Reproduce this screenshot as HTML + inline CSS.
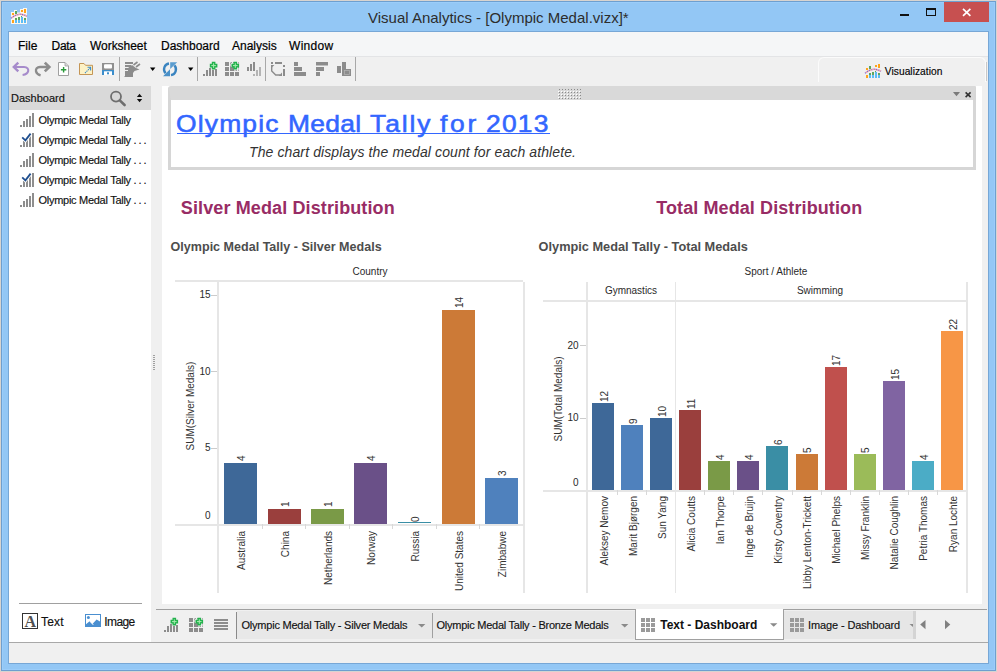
<!DOCTYPE html>
<html><head><meta charset="utf-8"><title>Visual Analytics</title>
<style>
*{margin:0;padding:0;box-sizing:border-box}
html,body{width:997px;height:672px;overflow:hidden}
body{position:relative;background:#93c7f5;font-family:"Liberation Sans",sans-serif}
.a{position:absolute}
.t{position:absolute;white-space:nowrap;font-family:"Liberation Sans",sans-serif}
svg{position:absolute;left:0;top:0}
</style></head><body>

<div class="a" style="left:0;top:0;width:997px;height:672px;border:1px solid #d8d4d0"></div>
<div class="a" style="left:1px;top:1px;width:995px;height:670px;border:1px solid #6e9fcf"></div>
<div class="a" style="left:2px;top:2px;width:993px;height:668px;border:1px solid #9bcdfa"></div>
<div class="a" style="left:8px;top:31px;width:981px;height:633px;border:1px solid #77a7d6"></div>
<div class="a" style="left:9px;top:32px;width:979px;height:631px;background:#f0f0f0;"></div>
<div class="t" style="left:368.00px;top:9.80px;font-size:15px;line-height:15px;color:#2d2d2d;font-weight:normal;font-style:normal;letter-spacing:0px;">Visual Analytics - [Olympic Medal.vizx]*</div>
<div class="a" style="left:944px;top:2px;width:45px;height:20px;background:#c75050;"></div>
<div class="a" style="left:9px;top:32px;width:979px;height:24px;background:#f5f6f7;"></div>
<div class="a" style="left:9px;top:56px;width:979px;height:1px;background:#e3e4e6;"></div>
<div class="t" style="left:18.00px;top:40.44px;font-size:12px;line-height:12px;color:#000;font-weight:normal;font-style:normal;letter-spacing:0px;-webkit-text-stroke:0.2px #000">File</div>
<div class="t" style="left:51.60px;top:40.44px;font-size:12px;line-height:12px;color:#000;font-weight:normal;font-style:normal;letter-spacing:-0.35px;-webkit-text-stroke:0.2px #000">Data</div>
<div class="t" style="left:90.00px;top:40.44px;font-size:12px;line-height:12px;color:#000;font-weight:normal;font-style:normal;letter-spacing:-0.05px;-webkit-text-stroke:0.2px #000">Worksheet</div>
<div class="t" style="left:161.00px;top:40.44px;font-size:12px;line-height:12px;color:#000;font-weight:normal;font-style:normal;letter-spacing:0px;-webkit-text-stroke:0.2px #000">Dashboard</div>
<div class="t" style="left:232.00px;top:40.44px;font-size:12px;line-height:12px;color:#000;font-weight:normal;font-style:normal;letter-spacing:0px;-webkit-text-stroke:0.2px #000">Analysis</div>
<div class="t" style="left:289.00px;top:40.44px;font-size:12px;line-height:12px;color:#000;font-weight:normal;font-style:normal;letter-spacing:0.3px;-webkit-text-stroke:0.2px #000">Window</div>
<div class="a" style="left:119px;top:57px;width:1px;height:24px;background:#a8a8a8;"></div>
<div class="a" style="left:197px;top:57px;width:1px;height:24px;background:#a8a8a8;"></div>
<div class="a" style="left:265px;top:57px;width:1px;height:24px;background:#a8a8a8;"></div>
<div class="a" style="left:355px;top:57px;width:1px;height:24px;background:#a8a8a8;"></div>
<div class="a" style="left:818px;top:57px;width:168px;height:25px;border:1px solid #fbfbfb;border-bottom:none;border-radius:6px 6px 0 0;background:#f0f0f0"></div>
<div class="a" style="left:986px;top:62px;width:1px;height:19px;background:#c8c8c8;"></div>
<div class="t" style="left:884.80px;top:66.97px;font-size:10.2px;line-height:10.2px;color:#000;font-weight:normal;font-style:normal;letter-spacing:0.05px;-webkit-text-stroke:0.15px #111">Visualization</div>
<div class="a" style="left:9px;top:86px;width:142px;height:556px;background:#ffffff;"></div>
<div class="a" style="left:9px;top:86px;width:142px;height:24px;background:#d9d9d9;"></div>
<div class="t" style="left:11.00px;top:93.09px;font-size:11px;line-height:11px;color:#111;font-weight:normal;font-style:normal;letter-spacing:0px;-webkit-text-stroke:0.15px #111">Dashboard</div>
<div class="t" style="left:38.50px;top:115.29px;font-size:11px;line-height:11px;color:#111;font-weight:normal;font-style:normal;letter-spacing:-0.28px;-webkit-text-stroke:0.15px #111">Olympic Medal Tally</div>
<div class="t" style="left:38.50px;top:135.29px;font-size:11px;line-height:11px;color:#111;font-weight:normal;font-style:normal;letter-spacing:-0.28px;-webkit-text-stroke:0.15px #111">Olympic Medal Tally <span style="letter-spacing:1.9px">...</span></div>
<div class="t" style="left:38.50px;top:155.29px;font-size:11px;line-height:11px;color:#111;font-weight:normal;font-style:normal;letter-spacing:-0.28px;-webkit-text-stroke:0.15px #111">Olympic Medal Tally <span style="letter-spacing:1.9px">...</span></div>
<div class="t" style="left:38.50px;top:175.29px;font-size:11px;line-height:11px;color:#111;font-weight:normal;font-style:normal;letter-spacing:-0.28px;-webkit-text-stroke:0.15px #111">Olympic Medal Tally <span style="letter-spacing:1.9px">...</span></div>
<div class="t" style="left:38.50px;top:195.29px;font-size:11px;line-height:11px;color:#111;font-weight:normal;font-style:normal;letter-spacing:-0.28px;-webkit-text-stroke:0.15px #111">Olympic Medal Tally <span style="letter-spacing:1.9px">...</span></div>
<div class="a" style="left:19px;top:603px;width:123px;height:1px;background:#a0a0a0;"></div>
<div class="t" style="left:41.00px;top:615.84px;font-size:12px;line-height:12px;color:#111;font-weight:normal;font-style:normal;letter-spacing:0.2px;-webkit-text-stroke:0.15px #111">Text</div>
<div class="t" style="left:104.30px;top:615.84px;font-size:12px;line-height:12px;color:#111;font-weight:normal;font-style:normal;letter-spacing:-0.6px;-webkit-text-stroke:0.15px #111">Image</div>
<div class="a" style="left:162px;top:86px;width:820px;height:518px;background:#ffffff;"></div>
<div class="a" style="left:153px;top:355px;width:2px;height:1px;background:#a0a0a0;"></div>
<div class="a" style="left:153px;top:357px;width:2px;height:1px;background:#a0a0a0;"></div>
<div class="a" style="left:153px;top:359px;width:2px;height:1px;background:#a0a0a0;"></div>
<div class="a" style="left:153px;top:361px;width:2px;height:1px;background:#a0a0a0;"></div>
<div class="a" style="left:153px;top:363px;width:2px;height:1px;background:#a0a0a0;"></div>
<div class="a" style="left:153px;top:365px;width:2px;height:1px;background:#a0a0a0;"></div>
<div class="a" style="left:153px;top:367px;width:2px;height:1px;background:#a0a0a0;"></div>
<div class="a" style="left:153px;top:369px;width:2px;height:1px;background:#a0a0a0;"></div>
<div class="a" style="left:168px;top:86px;width:808px;height:84px;border:3px solid #d6d6d6;border-top:14px solid #d9d9d9;border-radius:3px 1px 0 0;background:#fff"></div>
<div class="a" style="left:156px;top:609px;width:831px;height:1px;background:#a0a0a0;"></div>
<div class="a" style="left:9px;top:642px;width:979px;height:1px;background:#a8a8a8;"></div>
<div class="a" style="left:559px;top:89px;width:1px;height:1px;background:#8a8a8a;"></div>
<div class="a" style="left:558px;top:91px;width:1px;height:1px;background:#ffffff;"></div>
<div class="a" style="left:559px;top:92px;width:1px;height:1px;background:#8a8a8a;"></div>
<div class="a" style="left:558px;top:94px;width:1px;height:1px;background:#ffffff;"></div>
<div class="a" style="left:559px;top:95px;width:1px;height:1px;background:#8a8a8a;"></div>
<div class="a" style="left:558px;top:97px;width:1px;height:1px;background:#ffffff;"></div>
<div class="a" style="left:559px;top:98px;width:1px;height:1px;background:#8a8a8a;"></div>
<div class="a" style="left:562px;top:89px;width:1px;height:1px;background:#8a8a8a;"></div>
<div class="a" style="left:561px;top:91px;width:1px;height:1px;background:#ffffff;"></div>
<div class="a" style="left:562px;top:92px;width:1px;height:1px;background:#8a8a8a;"></div>
<div class="a" style="left:561px;top:94px;width:1px;height:1px;background:#ffffff;"></div>
<div class="a" style="left:562px;top:95px;width:1px;height:1px;background:#8a8a8a;"></div>
<div class="a" style="left:561px;top:97px;width:1px;height:1px;background:#ffffff;"></div>
<div class="a" style="left:562px;top:98px;width:1px;height:1px;background:#8a8a8a;"></div>
<div class="a" style="left:565px;top:89px;width:1px;height:1px;background:#8a8a8a;"></div>
<div class="a" style="left:564px;top:91px;width:1px;height:1px;background:#ffffff;"></div>
<div class="a" style="left:565px;top:92px;width:1px;height:1px;background:#8a8a8a;"></div>
<div class="a" style="left:564px;top:94px;width:1px;height:1px;background:#ffffff;"></div>
<div class="a" style="left:565px;top:95px;width:1px;height:1px;background:#8a8a8a;"></div>
<div class="a" style="left:564px;top:97px;width:1px;height:1px;background:#ffffff;"></div>
<div class="a" style="left:565px;top:98px;width:1px;height:1px;background:#8a8a8a;"></div>
<div class="a" style="left:568px;top:89px;width:1px;height:1px;background:#8a8a8a;"></div>
<div class="a" style="left:567px;top:91px;width:1px;height:1px;background:#ffffff;"></div>
<div class="a" style="left:568px;top:92px;width:1px;height:1px;background:#8a8a8a;"></div>
<div class="a" style="left:567px;top:94px;width:1px;height:1px;background:#ffffff;"></div>
<div class="a" style="left:568px;top:95px;width:1px;height:1px;background:#8a8a8a;"></div>
<div class="a" style="left:567px;top:97px;width:1px;height:1px;background:#ffffff;"></div>
<div class="a" style="left:568px;top:98px;width:1px;height:1px;background:#8a8a8a;"></div>
<div class="a" style="left:571px;top:89px;width:1px;height:1px;background:#8a8a8a;"></div>
<div class="a" style="left:570px;top:91px;width:1px;height:1px;background:#ffffff;"></div>
<div class="a" style="left:571px;top:92px;width:1px;height:1px;background:#8a8a8a;"></div>
<div class="a" style="left:570px;top:94px;width:1px;height:1px;background:#ffffff;"></div>
<div class="a" style="left:571px;top:95px;width:1px;height:1px;background:#8a8a8a;"></div>
<div class="a" style="left:570px;top:97px;width:1px;height:1px;background:#ffffff;"></div>
<div class="a" style="left:571px;top:98px;width:1px;height:1px;background:#8a8a8a;"></div>
<div class="a" style="left:574px;top:89px;width:1px;height:1px;background:#8a8a8a;"></div>
<div class="a" style="left:573px;top:91px;width:1px;height:1px;background:#ffffff;"></div>
<div class="a" style="left:574px;top:92px;width:1px;height:1px;background:#8a8a8a;"></div>
<div class="a" style="left:573px;top:94px;width:1px;height:1px;background:#ffffff;"></div>
<div class="a" style="left:574px;top:95px;width:1px;height:1px;background:#8a8a8a;"></div>
<div class="a" style="left:573px;top:97px;width:1px;height:1px;background:#ffffff;"></div>
<div class="a" style="left:574px;top:98px;width:1px;height:1px;background:#8a8a8a;"></div>
<div class="a" style="left:577px;top:89px;width:1px;height:1px;background:#8a8a8a;"></div>
<div class="a" style="left:576px;top:91px;width:1px;height:1px;background:#ffffff;"></div>
<div class="a" style="left:577px;top:92px;width:1px;height:1px;background:#8a8a8a;"></div>
<div class="a" style="left:576px;top:94px;width:1px;height:1px;background:#ffffff;"></div>
<div class="a" style="left:577px;top:95px;width:1px;height:1px;background:#8a8a8a;"></div>
<div class="a" style="left:576px;top:97px;width:1px;height:1px;background:#ffffff;"></div>
<div class="a" style="left:577px;top:98px;width:1px;height:1px;background:#8a8a8a;"></div>
<div class="a" style="left:580px;top:89px;width:1px;height:1px;background:#8a8a8a;"></div>
<div class="a" style="left:579px;top:91px;width:1px;height:1px;background:#ffffff;"></div>
<div class="a" style="left:580px;top:92px;width:1px;height:1px;background:#8a8a8a;"></div>
<div class="a" style="left:579px;top:94px;width:1px;height:1px;background:#ffffff;"></div>
<div class="a" style="left:580px;top:95px;width:1px;height:1px;background:#8a8a8a;"></div>
<div class="a" style="left:579px;top:97px;width:1px;height:1px;background:#ffffff;"></div>
<div class="a" style="left:580px;top:98px;width:1px;height:1px;background:#8a8a8a;"></div>
<div class="t" style="left:175.90px;top:111.78px;font-size:24px;line-height:24px;color:#3366ff;font-weight:normal;font-style:normal;letter-spacing:1.08px;transform:scaleX(1.1);transform-origin:0 0;-webkit-text-stroke:0.55px #3366ff">Olympic</div>
<div class="t" style="left:287.90px;top:111.78px;font-size:24px;line-height:24px;color:#3366ff;font-weight:normal;font-style:normal;letter-spacing:0.25px;transform:scaleX(1.1);transform-origin:0 0;-webkit-text-stroke:0.55px #3366ff">Medal</div>
<div class="t" style="left:370.30px;top:111.78px;font-size:24px;line-height:24px;color:#3366ff;font-weight:normal;font-style:normal;letter-spacing:1.75px;transform:scaleX(1.1);transform-origin:0 0;-webkit-text-stroke:0.55px #3366ff">Tally</div>
<div class="t" style="left:440.40px;top:111.78px;font-size:24px;line-height:24px;color:#3366ff;font-weight:normal;font-style:normal;letter-spacing:2.5px;transform:scaleX(1.1);transform-origin:0 0;-webkit-text-stroke:0.55px #3366ff">for</div>
<div class="t" style="left:485.70px;top:111.78px;font-size:24px;line-height:24px;color:#3366ff;font-weight:normal;font-style:normal;letter-spacing:1.1px;transform:scaleX(1.1);transform-origin:0 0;-webkit-text-stroke:0.55px #3366ff">2013</div>
<div class="a" style="left:177px;top:133px;width:373px;height:1px;background:#3366ff;"></div>
<div class="t" style="left:249.00px;top:145.45px;font-size:14px;line-height:14px;color:#333;font-weight:normal;font-style:italic;letter-spacing:0.11px;">The chart displays the medal count for each athlete.</div>
<div class="t" style="left:180.80px;top:199.26px;font-size:18px;line-height:18px;color:#982c65;font-weight:bold;font-style:normal;letter-spacing:0.12px;">Silver Medal Distribution</div>
<div class="t" style="left:656.20px;top:198.76px;font-size:18px;line-height:18px;color:#982c65;font-weight:bold;font-style:normal;letter-spacing:0.1px;">Total Medal Distribution</div>
<div class="t" style="left:170.60px;top:241.28px;font-size:12.55px;line-height:12.55px;color:#4d4d4d;font-weight:bold;font-style:normal;letter-spacing:0px;">Olympic Medal Tally - Silver Medals</div>
<div class="t" style="left:538.60px;top:241.11px;font-size:12.75px;line-height:12.75px;color:#4d4d4d;font-weight:bold;font-style:normal;letter-spacing:0px;">Olympic Medal Tally - Total Medals</div>
<div class="t" style="left:270.00px;top:266.54px;width:200px;text-align:center;font-size:10px;line-height:10px;color:#2a2a2a;font-weight:normal">Country</div>
<div class="a" style="left:175px;top:280px;width:348px;height:2px;background:#e6e6e6;"></div>
<div class="a" style="left:217px;top:282px;width:2px;height:311px;background:#e6e6e6;"></div>
<div class="a" style="left:523px;top:282px;width:2px;height:311px;background:#e6e6e6;"></div>
<div class="a" style="left:175px;top:524px;width:348px;height:2px;background:#e6e6e6;"></div>
<div class="a" style="left:211px;top:295px;width:6px;height:1px;background:#cccccc;"></div>
<div class="t" style="left:150.50px;top:290.35px;width:60px;text-align:right;font-size:10px;line-height:10px;color:#2a2a2a">15</div>
<div class="a" style="left:211px;top:371px;width:6px;height:1px;background:#cccccc;"></div>
<div class="t" style="left:150.50px;top:366.78px;width:60px;text-align:right;font-size:10px;line-height:10px;color:#2a2a2a">10</div>
<div class="a" style="left:211px;top:448px;width:6px;height:1px;background:#cccccc;"></div>
<div class="t" style="left:150.50px;top:443.21px;width:60px;text-align:right;font-size:10px;line-height:10px;color:#2a2a2a">5</div>
<div class="t" style="left:150.50px;top:511.33px;width:60px;text-align:right;font-size:10px;line-height:10px;color:#2a2a2a">0</div>
<div class="t" style="left:186.10px;top:466.00px;width:120px;text-align:center;font-size:10px;line-height:10px;color:#333;transform-origin:0 0;transform:rotate(-90deg)">SUM(Silver Medals)</div>
<div class="a" style="left:224px;top:463px;width:33px;height:61px;background:#3e6898;"></div>
<div class="t" style="left:237.40px;top:461.20px;width:120px;text-align:left;font-size:10px;line-height:10px;color:#333;transform-origin:0 0;transform:rotate(-90deg)">4</div>
<div class="t" style="left:237.20px;top:650.60px;width:120px;text-align:right;font-size:10px;line-height:10px;color:#333;transform-origin:0 0;transform:rotate(-90deg)">Australia</div>
<div class="a" style="left:268px;top:509px;width:33px;height:15px;background:#9a3f3d;"></div>
<div class="t" style="left:281.40px;top:507.20px;width:120px;text-align:left;font-size:10px;line-height:10px;color:#333;transform-origin:0 0;transform:rotate(-90deg)">1</div>
<div class="t" style="left:281.20px;top:650.60px;width:120px;text-align:right;font-size:10px;line-height:10px;color:#333;transform-origin:0 0;transform:rotate(-90deg)">China</div>
<div class="a" style="left:262px;top:524px;width:1px;height:5px;background:#d8d8d8;"></div>
<div class="a" style="left:311px;top:509px;width:33px;height:15px;background:#7a9a47;"></div>
<div class="t" style="left:324.40px;top:507.20px;width:120px;text-align:left;font-size:10px;line-height:10px;color:#333;transform-origin:0 0;transform:rotate(-90deg)">1</div>
<div class="t" style="left:324.20px;top:650.60px;width:120px;text-align:right;font-size:10px;line-height:10px;color:#333;transform-origin:0 0;transform:rotate(-90deg)">Netherlands</div>
<div class="a" style="left:305px;top:524px;width:1px;height:5px;background:#d8d8d8;"></div>
<div class="a" style="left:354px;top:463px;width:33px;height:61px;background:#6a5088;"></div>
<div class="t" style="left:367.40px;top:461.20px;width:120px;text-align:left;font-size:10px;line-height:10px;color:#333;transform-origin:0 0;transform:rotate(-90deg)">4</div>
<div class="t" style="left:367.20px;top:650.60px;width:120px;text-align:right;font-size:10px;line-height:10px;color:#333;transform-origin:0 0;transform:rotate(-90deg)">Norway</div>
<div class="a" style="left:349px;top:524px;width:1px;height:5px;background:#d8d8d8;"></div>
<div class="a" style="left:398px;top:522px;width:33px;height:1px;background:#3a8ea5;"></div>
<div class="t" style="left:411.40px;top:522.20px;width:120px;text-align:left;font-size:10px;line-height:10px;color:#333;transform-origin:0 0;transform:rotate(-90deg)">0</div>
<div class="t" style="left:411.20px;top:650.60px;width:120px;text-align:right;font-size:10px;line-height:10px;color:#333;transform-origin:0 0;transform:rotate(-90deg)">Russia</div>
<div class="a" style="left:392px;top:524px;width:1px;height:5px;background:#d8d8d8;"></div>
<div class="a" style="left:442px;top:310px;width:33px;height:214px;background:#cc7a37;"></div>
<div class="t" style="left:455.40px;top:308.20px;width:120px;text-align:left;font-size:10px;line-height:10px;color:#333;transform-origin:0 0;transform:rotate(-90deg)">14</div>
<div class="t" style="left:455.20px;top:650.60px;width:120px;text-align:right;font-size:10px;line-height:10px;color:#333;transform-origin:0 0;transform:rotate(-90deg)">United States</div>
<div class="a" style="left:436px;top:524px;width:1px;height:5px;background:#d8d8d8;"></div>
<div class="a" style="left:485px;top:478px;width:33px;height:46px;background:#4f81bd;"></div>
<div class="t" style="left:498.40px;top:476.20px;width:120px;text-align:left;font-size:10px;line-height:10px;color:#333;transform-origin:0 0;transform:rotate(-90deg)">3</div>
<div class="t" style="left:498.20px;top:650.60px;width:120px;text-align:right;font-size:10px;line-height:10px;color:#333;transform-origin:0 0;transform:rotate(-90deg)">Zimbabwe</div>
<div class="a" style="left:479px;top:524px;width:1px;height:5px;background:#d8d8d8;"></div>
<div class="t" style="left:676.00px;top:266.54px;width:200px;text-align:center;font-size:10px;line-height:10px;color:#2a2a2a;font-weight:normal">Sport / Athlete</div>
<div class="t" style="left:531.00px;top:285.54px;width:200px;text-align:center;font-size:10px;line-height:10px;color:#2a2a2a;font-weight:normal">Gymnastics</div>
<div class="t" style="left:720.00px;top:285.54px;width:200px;text-align:center;font-size:10px;line-height:10px;color:#2a2a2a;font-weight:normal">Swimming</div>
<div class="a" style="left:586px;top:282px;width:2px;height:311px;background:#e6e6e6;"></div>
<div class="a" style="left:675px;top:282px;width:1px;height:311px;background:#e6e6e6;"></div>
<div class="a" style="left:966px;top:282px;width:2px;height:311px;background:#e6e6e6;"></div>
<div class="a" style="left:543px;top:300px;width:423px;height:2px;background:#e6e6e6;"></div>
<div class="a" style="left:543px;top:490px;width:423px;height:2px;background:#e6e6e6;"></div>
<div class="a" style="left:580px;top:345px;width:6px;height:1px;background:#cccccc;"></div>
<div class="t" style="left:518.50px;top:340.94px;width:60px;text-align:right;font-size:10px;line-height:10px;color:#2a2a2a">20</div>
<div class="a" style="left:580px;top:418px;width:6px;height:1px;background:#cccccc;"></div>
<div class="t" style="left:518.50px;top:413.14px;width:60px;text-align:right;font-size:10px;line-height:10px;color:#2a2a2a">10</div>
<div class="t" style="left:518.50px;top:477.84px;width:60px;text-align:right;font-size:10px;line-height:10px;color:#2a2a2a">0</div>
<div class="t" style="left:554.10px;top:459.00px;width:120px;text-align:center;font-size:10px;line-height:10px;color:#333;transform-origin:0 0;transform:rotate(-90deg)">SUM(Total Medals)</div>
<div class="a" style="left:592px;top:403px;width:22px;height:87px;background:#3e6898;"></div>
<div class="t" style="left:599.70px;top:401.60px;width:120px;text-align:left;font-size:10px;line-height:10px;color:#333;transform-origin:0 0;transform:rotate(-90deg)">12</div>
<div class="t" style="left:599.60px;top:616.30px;width:120px;text-align:right;font-size:10px;line-height:10px;color:#333;transform-origin:0 0;transform:rotate(-90deg)">Aleksey Nemov</div>
<div class="a" style="left:621px;top:425px;width:22px;height:65px;background:#4f81bd;"></div>
<div class="t" style="left:628.78px;top:423.60px;width:120px;text-align:left;font-size:10px;line-height:10px;color:#333;transform-origin:0 0;transform:rotate(-90deg)">9</div>
<div class="t" style="left:628.68px;top:616.30px;width:120px;text-align:right;font-size:10px;line-height:10px;color:#333;transform-origin:0 0;transform:rotate(-90deg)">Marit Bjørgen</div>
<div class="a" style="left:617px;top:490px;width:1px;height:5px;background:#d8d8d8;"></div>
<div class="a" style="left:650px;top:418px;width:22px;height:72px;background:#3e6898;"></div>
<div class="t" style="left:657.86px;top:416.60px;width:120px;text-align:left;font-size:10px;line-height:10px;color:#333;transform-origin:0 0;transform:rotate(-90deg)">10</div>
<div class="t" style="left:657.76px;top:616.30px;width:120px;text-align:right;font-size:10px;line-height:10px;color:#333;transform-origin:0 0;transform:rotate(-90deg)">Sun Yang</div>
<div class="a" style="left:646px;top:490px;width:1px;height:5px;background:#d8d8d8;"></div>
<div class="a" style="left:679px;top:410px;width:22px;height:80px;background:#9a3f3d;"></div>
<div class="t" style="left:686.94px;top:408.60px;width:120px;text-align:left;font-size:10px;line-height:10px;color:#333;transform-origin:0 0;transform:rotate(-90deg)">11</div>
<div class="t" style="left:686.84px;top:616.30px;width:120px;text-align:right;font-size:10px;line-height:10px;color:#333;transform-origin:0 0;transform:rotate(-90deg)">Alicia Coutts</div>
<div class="a" style="left:708px;top:461px;width:22px;height:29px;background:#7a9a47;"></div>
<div class="t" style="left:716.02px;top:459.60px;width:120px;text-align:left;font-size:10px;line-height:10px;color:#333;transform-origin:0 0;transform:rotate(-90deg)">4</div>
<div class="t" style="left:715.92px;top:616.30px;width:120px;text-align:right;font-size:10px;line-height:10px;color:#333;transform-origin:0 0;transform:rotate(-90deg)">Ian Thorpe</div>
<div class="a" style="left:704px;top:490px;width:1px;height:5px;background:#d8d8d8;"></div>
<div class="a" style="left:737px;top:461px;width:22px;height:29px;background:#6a5088;"></div>
<div class="t" style="left:745.10px;top:459.60px;width:120px;text-align:left;font-size:10px;line-height:10px;color:#333;transform-origin:0 0;transform:rotate(-90deg)">4</div>
<div class="t" style="left:745.00px;top:616.30px;width:120px;text-align:right;font-size:10px;line-height:10px;color:#333;transform-origin:0 0;transform:rotate(-90deg)">Inge de Bruijn</div>
<div class="a" style="left:733px;top:490px;width:1px;height:5px;background:#d8d8d8;"></div>
<div class="a" style="left:766px;top:446px;width:22px;height:44px;background:#3a8ea5;"></div>
<div class="t" style="left:774.18px;top:444.60px;width:120px;text-align:left;font-size:10px;line-height:10px;color:#333;transform-origin:0 0;transform:rotate(-90deg)">6</div>
<div class="t" style="left:774.08px;top:616.30px;width:120px;text-align:right;font-size:10px;line-height:10px;color:#333;transform-origin:0 0;transform:rotate(-90deg)">Kirsty Coventry</div>
<div class="a" style="left:762px;top:490px;width:1px;height:5px;background:#d8d8d8;"></div>
<div class="a" style="left:796px;top:454px;width:22px;height:36px;background:#cc7a37;"></div>
<div class="t" style="left:803.26px;top:452.60px;width:120px;text-align:left;font-size:10px;line-height:10px;color:#333;transform-origin:0 0;transform:rotate(-90deg)">5</div>
<div class="t" style="left:803.16px;top:616.30px;width:120px;text-align:right;font-size:10px;line-height:10px;color:#333;transform-origin:0 0;transform:rotate(-90deg)">Libby Lenton-Trickett</div>
<div class="a" style="left:792px;top:490px;width:1px;height:5px;background:#d8d8d8;"></div>
<div class="a" style="left:825px;top:367px;width:22px;height:123px;background:#c0504d;"></div>
<div class="t" style="left:832.34px;top:365.60px;width:120px;text-align:left;font-size:10px;line-height:10px;color:#333;transform-origin:0 0;transform:rotate(-90deg)">17</div>
<div class="t" style="left:832.24px;top:616.30px;width:120px;text-align:right;font-size:10px;line-height:10px;color:#333;transform-origin:0 0;transform:rotate(-90deg)">Michael Phelps</div>
<div class="a" style="left:821px;top:490px;width:1px;height:5px;background:#d8d8d8;"></div>
<div class="a" style="left:854px;top:454px;width:22px;height:36px;background:#9bbb59;"></div>
<div class="t" style="left:861.42px;top:452.60px;width:120px;text-align:left;font-size:10px;line-height:10px;color:#333;transform-origin:0 0;transform:rotate(-90deg)">5</div>
<div class="t" style="left:861.32px;top:616.30px;width:120px;text-align:right;font-size:10px;line-height:10px;color:#333;transform-origin:0 0;transform:rotate(-90deg)">Missy Franklin</div>
<div class="a" style="left:850px;top:490px;width:1px;height:5px;background:#d8d8d8;"></div>
<div class="a" style="left:883px;top:381px;width:22px;height:109px;background:#8064a2;"></div>
<div class="t" style="left:890.50px;top:379.60px;width:120px;text-align:left;font-size:10px;line-height:10px;color:#333;transform-origin:0 0;transform:rotate(-90deg)">15</div>
<div class="t" style="left:890.40px;top:616.30px;width:120px;text-align:right;font-size:10px;line-height:10px;color:#333;transform-origin:0 0;transform:rotate(-90deg)">Natalie Coughlin</div>
<div class="a" style="left:879px;top:490px;width:1px;height:5px;background:#d8d8d8;"></div>
<div class="a" style="left:912px;top:461px;width:22px;height:29px;background:#4bacc6;"></div>
<div class="t" style="left:919.58px;top:459.60px;width:120px;text-align:left;font-size:10px;line-height:10px;color:#333;transform-origin:0 0;transform:rotate(-90deg)">4</div>
<div class="t" style="left:919.48px;top:616.30px;width:120px;text-align:right;font-size:10px;line-height:10px;color:#333;transform-origin:0 0;transform:rotate(-90deg)">Petria Thomas</div>
<div class="a" style="left:908px;top:490px;width:1px;height:5px;background:#d8d8d8;"></div>
<div class="a" style="left:941px;top:331px;width:22px;height:159px;background:#f79646;"></div>
<div class="t" style="left:948.66px;top:329.60px;width:120px;text-align:left;font-size:10px;line-height:10px;color:#333;transform-origin:0 0;transform:rotate(-90deg)">22</div>
<div class="t" style="left:948.56px;top:616.30px;width:120px;text-align:right;font-size:10px;line-height:10px;color:#333;transform-origin:0 0;transform:rotate(-90deg)">Ryan Lochte</div>
<div class="a" style="left:937px;top:490px;width:1px;height:5px;background:#d8d8d8;"></div>
<div class="a" style="left:236px;top:612px;width:1px;height:27px;background:#8a8a8a;"></div>
<div class="a" style="left:237px;top:611px;width:398px;height:28px;background:#e8e8e8;"></div>
<div class="a" style="left:432px;top:613px;width:1px;height:25px;background:#a0a0a0;"></div>
<div class="t" style="left:241.50px;top:620.29px;font-size:11px;line-height:11px;color:#111;font-weight:normal;font-style:normal;letter-spacing:-0.22px;-webkit-text-stroke:0.15px #111">Olympic Medal Tally - Silver Medals</div>
<div class="t" style="left:436.50px;top:620.29px;font-size:11px;line-height:11px;color:#111;font-weight:normal;font-style:normal;letter-spacing:-0.25px;-webkit-text-stroke:0.15px #111">Olympic Medal Tally - Bronze Medals</div>
<div class="a" style="left:635px;top:609px;width:149px;height:31px;border:1px solid #a0a0a0;border-top:none;background:#fff"></div>
<div class="t" style="left:660.20px;top:619.24px;font-size:12px;line-height:12px;color:#111;font-weight:bold;font-style:normal;letter-spacing:0px;">Text - Dashboard</div>
<div class="a" style="left:784px;top:611px;width:129px;height:28px;background:#e6e6e6;"></div>
<div class="a" style="left:913px;top:611px;width:3px;height:28px;background:#d4d4d4;"></div>
<div class="t" style="left:808.00px;top:620.19px;font-size:11px;line-height:11px;color:#111;font-weight:normal;font-style:normal;letter-spacing:-0.12px;-webkit-text-stroke:0.15px #111">Image - Dashboard</div>
<svg width="997" height="672" viewBox="0 0 997 672" ><g transform="translate(0,0)"><path d="M11,12h3v-2h3v2.5h3v-3.5h3v-1h4v16h-16z" fill="#fbf7f0"/><rect x="12" y="13" width="2" height="2" fill="#ffa31a"/><rect x="12" y="20" width="2" height="3" fill="#ffa31a"/><rect x="21" y="10" width="2" height="2" fill="#ffa31a"/><rect x="24" y="9" width="2" height="4" fill="#ffa31a"/><rect x="15" y="11" width="2" height="3" fill="#5ea65e"/><rect x="15" y="18" width="2" height="2" fill="#5ea65e"/><rect x="18" y="17" width="2" height="3" fill="#5ea65e"/><rect x="24" y="18" width="2" height="2" fill="#5ea65e"/><rect x="21" y="16" width="1" height="1" fill="#5ea65e"/><rect x="15" y="20" width="2" height="3" fill="#5bbcf5"/><rect x="18" y="20" width="2" height="3" fill="#5bbcf5"/><rect x="21" y="17" width="2" height="6" fill="#5bbcf5"/><rect x="24" y="20" width="2" height="3" fill="#5bbcf5"/><path d="M11,18.3 Q19,11.5 27,16.3" stroke="#8a6ad0" stroke-width="1.5" fill="none" stroke-dasharray="1.2 1.2"/><path d="M11,18.3 Q19,11.5 27,16.3" stroke="#f59a9a" stroke-width="1.5" fill="none" stroke-dasharray="1.2 1.2" stroke-dashoffset="1.2"/></g><g transform="translate(854,55)"><rect x="12" y="13" width="2" height="2" fill="#ffa31a"/><rect x="12" y="20" width="2" height="3" fill="#ffa31a"/><rect x="21" y="10" width="2" height="2" fill="#ffa31a"/><rect x="24" y="9" width="2" height="4" fill="#ffa31a"/><rect x="15" y="11" width="2" height="3" fill="#5ea65e"/><rect x="15" y="18" width="2" height="2" fill="#5ea65e"/><rect x="18" y="17" width="2" height="3" fill="#5ea65e"/><rect x="24" y="18" width="2" height="2" fill="#5ea65e"/><rect x="21" y="16" width="1" height="1" fill="#5ea65e"/><rect x="15" y="20" width="2" height="3" fill="#5bbcf5"/><rect x="18" y="20" width="2" height="3" fill="#5bbcf5"/><rect x="21" y="17" width="2" height="6" fill="#5bbcf5"/><rect x="24" y="20" width="2" height="3" fill="#5bbcf5"/><path d="M11,18.3 Q19,11.5 27,16.3" stroke="#8a6ad0" stroke-width="1.5" fill="none" stroke-dasharray="1.2 1.2"/><path d="M11,18.3 Q19,11.5 27,16.3" stroke="#f59a9a" stroke-width="1.5" fill="none" stroke-dasharray="1.2 1.2" stroke-dashoffset="1.2"/></g><rect x="900" y="14" width="9" height="2" fill="#111"/><rect x="926.5" y="8.5" width="9" height="7" fill="none" stroke="#111" stroke-width="1"/><rect x="926" y="8" width="10" height="2" fill="#111"/><path d="M963,8.8 L970.4,15.8 M970.4,8.8 L963,15.8" stroke="#fff" stroke-width="1.7"/><path d="M18.3,62.6 L13.8,67 L18.3,71.4" stroke="#a68bcb" stroke-width="2.4" fill="none" stroke-linejoin="miter"/><path d="M14.5,67 H24 C27.5,67 28.6,69.2 28.2,71 C27.7,73.2 25.5,74.6 22.6,75" stroke="#a68bcb" stroke-width="2.1" fill="none"/><path d="M44.8,62.6 L49.3,67 L44.8,71.4" stroke="#8c8c8c" stroke-width="2.7" fill="none"/><path d="M48.5,67 H40 C37,67 35.6,69 36,71.2 C36.4,73.2 38.3,74.6 40.6,75.3" stroke="#8c8c8c" stroke-width="2.3" fill="none"/><path d="M58.5,62.5 H65 L68.5,66 V75.5 H58.5 Z" fill="#fff" stroke="#a0a0a0" stroke-width="1"/><path d="M65,62.5 V66 H68.5" fill="#d8d8d8" stroke="#a0a0a0" stroke-width="0.8"/><path d="M63.6,67 V72.4 M60.9,69.7 H66.3" stroke="#2a9a3a" stroke-width="1.4"/><path d="M79.5,63.5 H84 L85.5,65.3 H92.5 V74.5 H79.5 Z" fill="#fdf2c6" stroke="#c49555" stroke-width="1"/><path d="M85,73 L90,68" stroke="#3a8ccc" stroke-width="1.1" stroke-dasharray="1.3 0.8"/><path d="M87.5,67.3 H90.6 V70.4" stroke="#3a8ccc" stroke-width="1.1" fill="none"/><rect x="102" y="63" width="12" height="7" fill="#909090"/><rect x="104" y="64.2" width="8" height="4.3" rx="1" fill="#fff"/><rect x="102" y="70" width="12" height="5" fill="#3b8dcb"/><rect x="104" y="71.3" width="8" height="3.7" fill="#fff"/><rect x="107" y="72.3" width="2" height="2" fill="#3b8dcb"/><rect x="125" y="62" width="8" height="2" fill="#8c8c8c"/><rect x="125" y="65" width="6" height="2" fill="#8c8c8c"/><rect x="125" y="68" width="3" height="2" fill="#8c8c8c"/><path d="M125,71 H128 V68 L132,65 L136,68 L139.5,69.5 L134.5,71 L133,73 V77 H124 L125,76 Z" fill="#8c8c8c"/><path d="M133.5,65 L137.5,62 M136,67 L140,64" stroke="#8c8c8c" stroke-width="1.6"/><path d="M150,67.6 H155.4 L152.7,70.9 Z" fill="#000"/><path d="M188,67.6 H193.4 L190.7,70.9 Z" fill="#000"/><path d="M169,63.5 A5.8,5.8 0 0 0 165.6,73.2" stroke="#3a84c0" stroke-width="2.3" fill="none"/><path d="M163,76.2 L170,76.2 L170,69.3 Z" fill="#4a90c8"/><path d="M171,75.1 A5.8,5.8 0 0 0 174.4,65.4" stroke="#3a84c0" stroke-width="2.3" fill="none"/><path d="M177.2,62.3 L170.2,62.3 L170.2,69 Z" fill="#5a9ccf"/><rect x="203" y="74" width="2" height="2" fill="#8c8c8c"/><rect x="206" y="70" width="2" height="6" fill="#8c8c8c"/><rect x="209" y="68" width="2" height="8" fill="#8c8c8c"/><rect x="212" y="70" width="2" height="6" fill="#8c8c8c"/><rect x="215" y="69" width="2" height="7" fill="#8c8c8c"/><path d="M211.79999999999998,61.8 h3.6 v2 h2 v3.6 h-2 v2 h-3.6 v-2 h-2 v-3.6 h2 z" fill="#22b14c" transform="translate(0,0)"/><path d="M213.6,63.3 v4.6 M211.29999999999998,65.6 h4.6" stroke="#a8ecb0" stroke-width="1"/><rect x="225" y="62" width="4" height="4" fill="#8c8c8c"/><rect x="225" y="67" width="4" height="4" fill="#8c8c8c"/><rect x="230" y="67" width="4" height="4" fill="#8c8c8c"/><rect x="225" y="72" width="4" height="4" fill="#8c8c8c"/><rect x="230" y="72" width="4" height="4" fill="#8c8c8c"/><rect x="235" y="72" width="4" height="4" fill="#8c8c8c"/><path d="M230.5,62.5 h8 v8 h-8 z" fill="none" stroke="#8c8c8c" stroke-width="0.8" stroke-dasharray="1.5 1"/><path d="M233.5,61.8 h3.6 v2 h2 v3.6 h-2 v2 h-3.6 v-2 h-2 v-3.6 h2 z" fill="#22b14c" transform="translate(0,0)"/><path d="M235.3,63.3 v4.6 M233.0,65.6 h4.6" stroke="#a8ecb0" stroke-width="1"/><rect x="247" y="67" width="2" height="4" fill="#8c8c8c"/><rect x="250" y="64" width="2" height="7" fill="#8c8c8c"/><rect x="253" y="62" width="2" height="9" fill="#8c8c8c"/><rect x="253" y="74" width="2" height="2" fill="#b4b4b4"/><rect x="256" y="70" width="2" height="6" fill="#b4b4b4"/><rect x="259" y="67" width="2" height="9" fill="#b4b4b4"/><rect x="271" y="62" width="2" height="2" fill="#8c8c8c"/><rect x="275" y="62" width="7" height="2" fill="#8c8c8c"/><rect x="283" y="65" width="2" height="2" fill="#8c8c8c"/><rect x="283" y="69" width="2" height="7" fill="#8c8c8c"/><path d="M271.7,67 V71 L275.7,75 H280" stroke="#8c8c8c" stroke-width="1.4" fill="none"/><path d="M271,65 L274.4,65 L271,68.4 Z M282,76 L278.6,76 L282,72.6 Z" fill="#8c8c8c"/><rect x="294" y="62" width="4" height="4" fill="#8c8c8c"/><rect x="294" y="67" width="8" height="4" fill="#8c8c8c"/><rect x="294" y="72" width="12" height="4" fill="#8c8c8c"/><rect x="316" y="62" width="12" height="3.5" fill="#8c8c8c"/><rect x="316" y="67" width="8" height="4" fill="#8c8c8c"/><rect x="316" y="72" width="4" height="4" fill="#8c8c8c"/><rect x="337" y="66" width="4" height="7" fill="#8c8c8c"/><path d="M342,62 H346 V69 H351 V76 H342 Z" fill="#8c8c8c"/><rect x="344.5" y="70.5" width="5" height="4" fill="none" stroke="#b4b4b4" stroke-width="0.7"/><circle cx="116" cy="96.6" r="5" fill="none" stroke="#6e6e6e" stroke-width="1.8"/><path d="M119.8,100.4 L124.6,105" stroke="#6e6e6e" stroke-width="2.6" stroke-linecap="round"/><path d="M136.9,97 H142.2 L139.55,93.7 Z M136.9,99 H142.2 L139.55,102.2 Z" fill="#111"/><rect x="20" y="125" width="2" height="2" fill="#8e8e8e"/><rect x="23" y="121" width="2" height="6" fill="#8e8e8e"/><rect x="26" y="119" width="2" height="8" fill="#8e8e8e"/><rect x="29" y="116" width="2" height="11" fill="#8e8e8e"/><rect x="32" y="113" width="2" height="14" fill="#8e8e8e"/><rect x="20" y="145" width="2" height="2" fill="#8e8e8e"/><rect x="23" y="141" width="2" height="6" fill="#8e8e8e"/><rect x="26" y="139" width="2" height="8" fill="#8e8e8e"/><rect x="29" y="136" width="2" height="11" fill="#8e8e8e"/><rect x="32" y="133" width="2" height="14" fill="#8e8e8e"/><path d="M22.2,137.4 L25.4,140.4 L30.6,133.6" stroke="#fff" stroke-width="3.4" fill="none"/><path d="M22.2,137.4 L25.4,140.4 L30.6,133.6" stroke="#1f4f8f" stroke-width="1.8" fill="none"/><rect x="20" y="137" width="0" height="0"/><rect x="20" y="165" width="2" height="2" fill="#8e8e8e"/><rect x="23" y="161" width="2" height="6" fill="#8e8e8e"/><rect x="26" y="159" width="2" height="8" fill="#8e8e8e"/><rect x="29" y="156" width="2" height="11" fill="#8e8e8e"/><rect x="32" y="153" width="2" height="14" fill="#8e8e8e"/><rect x="20" y="185" width="2" height="2" fill="#8e8e8e"/><rect x="23" y="181" width="2" height="6" fill="#8e8e8e"/><rect x="26" y="179" width="2" height="8" fill="#8e8e8e"/><rect x="29" y="176" width="2" height="11" fill="#8e8e8e"/><rect x="32" y="173" width="2" height="14" fill="#8e8e8e"/><path d="M22.2,177.4 L25.4,180.4 L30.6,173.6" stroke="#fff" stroke-width="3.4" fill="none"/><path d="M22.2,177.4 L25.4,180.4 L30.6,173.6" stroke="#1f4f8f" stroke-width="1.8" fill="none"/><rect x="20" y="177" width="0" height="0"/><rect x="20" y="205" width="2" height="2" fill="#8e8e8e"/><rect x="23" y="201" width="2" height="6" fill="#8e8e8e"/><rect x="26" y="199" width="2" height="8" fill="#8e8e8e"/><rect x="29" y="196" width="2" height="11" fill="#8e8e8e"/><rect x="32" y="193" width="2" height="14" fill="#8e8e8e"/><rect x="22.5" y="613.5" width="15" height="15" fill="#fff" stroke="#333" stroke-width="1"/><text x="30.4" y="627" text-anchor="middle" font-family="Liberation Serif" font-weight="bold" font-size="16" fill="#505050">A</text><rect x="85" y="614" width="16" height="13" fill="#4a8fd0"/><rect x="86" y="615" width="14" height="8" fill="#fff"/><rect x="86" y="615" width="14" height="11" fill="#fff"/><circle cx="88.4" cy="617.4" r="1.5" fill="#4a8fd0"/><path d="M86,626 V624.2 L89.6,621.2 L92.4,624 L96.6,619.6 L100,621.6 V626 Z" fill="#4a8fd0"/><path d="M90.2,621.6 L93.4,625" stroke="#fff" stroke-width="0.9"/><path d="M953,92 H960 L956.5,96.2 Z" fill="#7a7a7a"/><path d="M965.6,92.4 L970.6,97.2 M970.6,92.4 L965.6,97.2" stroke="#333" stroke-width="1.6"/><rect x="164" y="630" width="2" height="2" fill="#8c8c8c"/><rect x="167" y="626" width="2" height="6" fill="#8c8c8c"/><rect x="170" y="624" width="2" height="8" fill="#8c8c8c"/><rect x="173" y="626" width="2" height="6" fill="#8c8c8c"/><rect x="176" y="625" width="2" height="7" fill="#8c8c8c"/><path d="M172.5,617.8000000000001 h3.6 v2 h2 v3.6 h-2 v2 h-3.6 v-2 h-2 v-3.6 h2 z" fill="#22b14c" transform="translate(0,0)"/><path d="M174.3,619.3000000000001 v4.6 M172.0,621.6 h4.6" stroke="#a8ecb0" stroke-width="1"/><rect x="189" y="618" width="4" height="4" fill="#8c8c8c"/><rect x="189" y="623" width="4" height="4" fill="#8c8c8c"/><rect x="194" y="623" width="4" height="4" fill="#8c8c8c"/><rect x="189" y="628" width="4" height="4" fill="#8c8c8c"/><rect x="194" y="628" width="4" height="4" fill="#8c8c8c"/><rect x="199" y="628" width="4" height="4" fill="#8c8c8c"/><path d="M194.5,618.5 h8 v8 h-8 z" fill="none" stroke="#8c8c8c" stroke-width="0.8" stroke-dasharray="1.5 1"/><path d="M197.5,617.8000000000001 h3.6 v2 h2 v3.6 h-2 v2 h-3.6 v-2 h-2 v-3.6 h2 z" fill="#22b14c" transform="translate(0,0)"/><path d="M199.3,619.3000000000001 v4.6 M197.0,621.6 h4.6" stroke="#a8ecb0" stroke-width="1"/><rect x="214" y="619" width="14" height="2" fill="#8c8c8c"/><rect x="214" y="622" width="14" height="2" fill="#8c8c8c"/><rect x="214" y="625" width="14" height="2" fill="#8c8c8c"/><rect x="214" y="628" width="14" height="2" fill="#8c8c8c"/><path d="M418,624 H425.4 L421.7,627.4 Z" fill="#8a8a8a"/><path d="M621,624 H628.4 L624.7,627.4 Z" fill="#8a8a8a"/><path d="M770,623.3 H777.4 L773.7,626.6999999999999 Z" fill="#8a8a8a"/><path d="M909.5,624 H913 L913,627 Z" fill="#8a8a8a"/><rect x="641" y="618" width="4" height="4" fill="#9a9a9a"/><rect x="646" y="618" width="4" height="4" fill="#9a9a9a"/><rect x="651" y="618" width="4" height="4" fill="#9a9a9a"/><rect x="641" y="623" width="4" height="4" fill="#9a9a9a"/><rect x="646" y="623" width="4" height="4" fill="#9a9a9a"/><rect x="651" y="623" width="4" height="4" fill="#9a9a9a"/><rect x="641" y="628" width="4" height="4" fill="#9a9a9a"/><rect x="646" y="628" width="4" height="4" fill="#9a9a9a"/><rect x="651" y="628" width="4" height="4" fill="#9a9a9a"/><rect x="790" y="618" width="4" height="4" fill="#9a9a9a"/><rect x="795" y="618" width="4" height="4" fill="#9a9a9a"/><rect x="800" y="618" width="4" height="4" fill="#9a9a9a"/><rect x="790" y="623" width="4" height="4" fill="#9a9a9a"/><rect x="795" y="623" width="4" height="4" fill="#9a9a9a"/><rect x="800" y="623" width="4" height="4" fill="#9a9a9a"/><rect x="790" y="628" width="4" height="4" fill="#9a9a9a"/><rect x="795" y="628" width="4" height="4" fill="#9a9a9a"/><rect x="800" y="628" width="4" height="4" fill="#9a9a9a"/><path d="M925.5,620 V629.2 L920.2,624.6 Z" fill="#808080"/><path d="M945,620 V629.2 L950.3,624.6 Z" fill="#808080"/></svg>
</body></html>
